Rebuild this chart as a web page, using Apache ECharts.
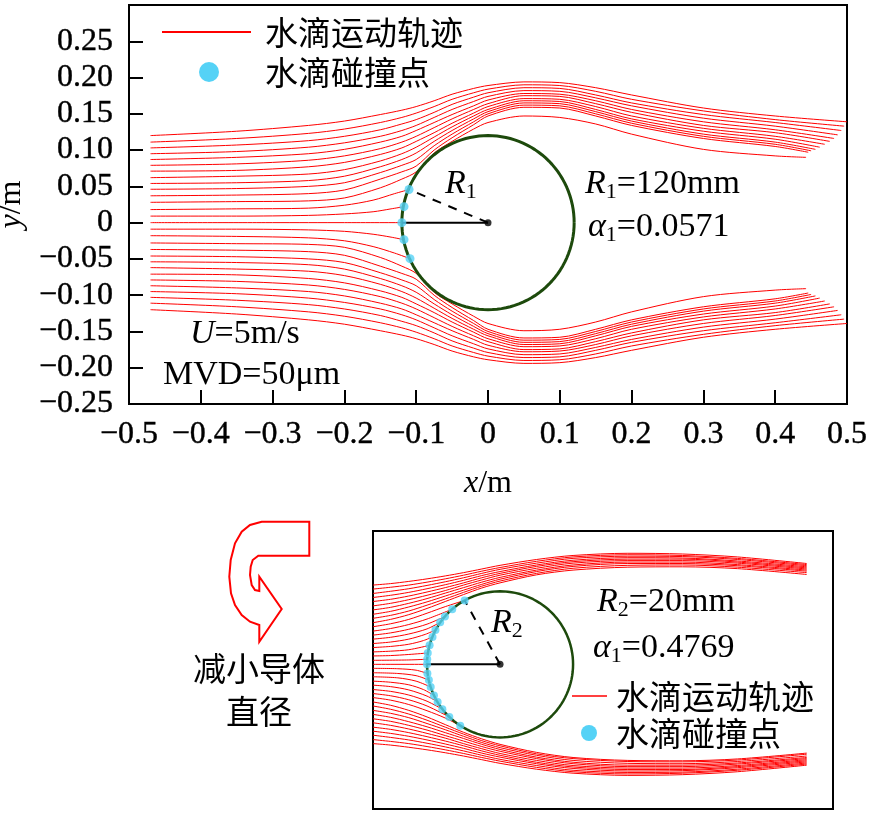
<!DOCTYPE html>
<html><head><meta charset="utf-8">
<script src="https://cdn.jsdelivr.net/npm/echarts@6/dist/echarts.min.js"></script>
<style>html,body{margin:0;padding:0;background:#fff}#c{width:870px;height:814px}</style>
</head><body><div id="c"></div>
<script>
// ---------------- DATA ----------------
const R1 = 0.12;          // m, large conductor
const R2 = 0.02;          // m, small conductor

// upper panel: shared x stations for droplet paths that pass the conductor
const topX = [-0.47,-0.35,-0.25,-0.2,-0.15,-0.12,-0.1,-0.075,-0.05,-0.02,0,0.05,0.1,0.15,0.2,0.3,0.4];
const topUpper = [
  [.120,.126,.134,.140,.149,.155,.160,.168,.177,.185,.189,.194,.193,.186,.176,.158,.147],
  [.111,.116,.123,.129,.138,.145,.151,.160,.170,.179,.184,.190,.189,.181,.170,.154,.142],
  [.103,.107,.113,.119,.128,.136,.142,.152,.163,.173,.179,.186,.185,.176,.165,.149,.138],
  [.095,.098,.104,.110,.119,.127,.134,.145,.156,.167,.174,.182,.181,.172,.161,.144,.133],
  [.087,.090,.095,.101,.111,.119,.127,.138,.149,.161,.169,.178,.177,.168,.156,.139,.128],
  [.079,.081,.086,.092,.102,.111,.119,.131,.143,.156,.164,.175,.174,.164,.152,.134,.124],
  [.071,.072,.077,.083,.094,.103,.112,.124,.137,.151,.160,.171,.170,.160,.147,.130,.119],
  [.062,.064,.067,.073,.085,.095,.104,.118,.132,.147,.156,.168,.167,.156,.143,.126,.115],
  [.054,.055,.058,.064,.077,.087,.096,.112,.127,.143,.153,.165,.164,.153,.140,.122,.111],
  [.046,.047,.050,.055,.069,.079,.087,.106,.122,.139,.150,.162,.161,.150,.137,.119,.108],
  [.037,.038,.040,.045,.060,.070,.078,.100,.117,.135,.147,.159,.158,.147,.134,.116,.105],
  [.028,.029,.030,.034,.048,.060,.070,.096,.112,.129,.138,.147,.145,.136,.122,.101,.092]
];
const topUpperEnd = [[.500,.139],[.496,.133],[.492,.127],[.487,.121],[.482,.116],[.476,.112],[.469,.108],[.462,.104],[.456,.101],[.450,.099],[.446,.097],[.443,.090]];
const topLower = [
  [-.120,-.126,-.134,-.140,-.149,-.155,-.160,-.168,-.177,-.185,-.189,-.194,-.193,-.186,-.176,-.158,-.147],
  [-.111,-.116,-.123,-.129,-.138,-.145,-.151,-.160,-.170,-.179,-.184,-.190,-.189,-.181,-.170,-.154,-.142],
  [-.103,-.107,-.113,-.119,-.128,-.136,-.142,-.152,-.163,-.173,-.179,-.186,-.185,-.176,-.165,-.149,-.138],
  [-.095,-.098,-.104,-.110,-.119,-.127,-.134,-.145,-.156,-.167,-.174,-.182,-.181,-.172,-.161,-.144,-.133],
  [-.087,-.090,-.095,-.101,-.111,-.119,-.127,-.138,-.149,-.161,-.169,-.178,-.177,-.168,-.156,-.139,-.128],
  [-.079,-.081,-.086,-.092,-.102,-.111,-.119,-.131,-.143,-.156,-.164,-.175,-.174,-.164,-.152,-.134,-.124],
  [-.071,-.072,-.077,-.083,-.094,-.103,-.112,-.124,-.137,-.151,-.160,-.171,-.170,-.160,-.147,-.130,-.119],
  [-.062,-.064,-.067,-.073,-.085,-.095,-.104,-.118,-.132,-.147,-.156,-.168,-.167,-.156,-.143,-.126,-.115],
  [-.054,-.055,-.058,-.064,-.077,-.087,-.096,-.112,-.127,-.143,-.153,-.165,-.164,-.153,-.140,-.122,-.111],
  [-.046,-.047,-.050,-.055,-.069,-.079,-.087,-.106,-.122,-.139,-.150,-.162,-.161,-.150,-.137,-.119,-.108],
  [-.037,-.038,-.040,-.045,-.060,-.070,-.078,-.100,-.117,-.135,-.147,-.159,-.158,-.147,-.134,-.116,-.105],
  [-.028,-.029,-.030,-.034,-.048,-.060,-.070,-.096,-.112,-.129,-.139,-.149,-.147,-.137,-.123,-.102,-.093]
];
const topLowerEnd = [[.500,-.139],[.496,-.133],[.492,-.127],[.487,-.121],[.482,-.116],[.476,-.112],[.469,-.108],[.462,-.104],[.456,-.101],[.450,-.099],[.446,-.097],[.443,-.091]];
// upper panel: droplet paths that end on the conductor
const topImpact = [
  [[-.47,.018],[-.35,.019],[-.25,.020],[-.2,.024],[-.16,.031],[-.13,.040],[-.110,.0456]],
  [[-.47,.009],[-.35,.009],[-.25,.010],[-.2,.012],[-.16,.015],[-.135,.019],[-.117,.022]],
  [[-.47,0],[-.3,0],[-.2,0],[-.12,0]],
  [[-.47,-.009],[-.35,-.009],[-.25,-.010],[-.2,-.012],[-.16,-.016],[-.135,-.020],[-.117,-.0235]],
  [[-.47,-.018],[-.35,-.019],[-.25,-.021],[-.2,-.025],[-.16,-.033],[-.13,-.042],[-.1086,-.0497]]
];
const topDots = [[-.110,.0456],[-.117,.022],[-.12,0],[-.117,-.0235],[-.1086,-.0497]];

// lower panel (R2 = 20 mm)
const botX = [-0.0348,-0.03,-0.025,-0.02,-0.015,-0.01,-0.005,0,0.01,0.02,0.035,0.05,0.065,0.084];
const botUpper = [
  [.0217,.0221,.0227,.0234,.0242,.0251,.0261,.0271,.0287,.0298,.0304,.0302,.0294,.0276],
  [.0206,.0211,.0217,.0225,.0234,.0244,.0255,.0265,.0282,.0294,.0300,.0298,.0290,.0273],
  [.0194,.0200,.0207,.0216,.0226,.0237,.0249,.0260,.0277,.0290,.0296,.0295,.0287,.0270],
  [.0183,.0189,.0197,.0207,.0218,.0230,.0243,.0254,.0272,.0285,.0292,.0291,.0283,.0267],
  [.0172,.0178,.0187,.0198,.0210,.0223,.0237,.0249,.0268,.0281,.0288,.0288,.0280,.0264],
  [.0160,.0167,.0177,.0189,.0202,.0217,.0231,.0244,.0263,.0277,.0284,.0284,.0277,.0261],
  [.0149,.0156,.0167,.0180,.0195,.0210,.0225,.0238,.0258,.0272,.0280,.0280,.0273,.0258],
  [.0137,.0145,.0157,.0171,.0187,.0203,.0219,.0233,.0254,.0268,.0276,.0276,.0270,.0255],
  [.0126,.0134,.0146,.0162,.0179,.0197,.0214,.0228,.0249,.0263,.0271,.0272,.0266,.0251],
  [.0114,.0123,.0136,.0153,.0172,.0191,.0209,.0223,.0245,.0258,.0266,.0267,.0262,.0246]
];
const botLower = [
  [-.0217,-.0221,-.0227,-.0234,-.0242,-.0251,-.0261,-.0271,-.0287,-.0298,-.0304,-.0302,-.0294,-.0276],
  [-.0206,-.0211,-.0217,-.0225,-.0234,-.0244,-.0255,-.0265,-.0282,-.0294,-.0300,-.0298,-.0290,-.0273],
  [-.0194,-.0200,-.0207,-.0216,-.0226,-.0237,-.0249,-.0260,-.0277,-.0290,-.0296,-.0295,-.0287,-.0270],
  [-.0183,-.0189,-.0197,-.0207,-.0218,-.0230,-.0243,-.0254,-.0272,-.0285,-.0292,-.0291,-.0283,-.0267],
  [-.0172,-.0178,-.0187,-.0198,-.0210,-.0223,-.0237,-.0249,-.0268,-.0281,-.0288,-.0288,-.0280,-.0264],
  [-.0160,-.0167,-.0177,-.0189,-.0202,-.0217,-.0231,-.0244,-.0263,-.0277,-.0284,-.0284,-.0277,-.0261],
  [-.0149,-.0156,-.0167,-.0180,-.0195,-.0210,-.0225,-.0238,-.0258,-.0272,-.0280,-.0280,-.0273,-.0258],
  [-.0137,-.0145,-.0157,-.0171,-.0187,-.0203,-.0219,-.0233,-.0254,-.0268,-.0276,-.0276,-.0270,-.0255],
  [-.0126,-.0134,-.0146,-.0162,-.0179,-.0197,-.0214,-.0228,-.0249,-.0263,-.0271,-.0272,-.0266,-.0251],
  [-.0114,-.0123,-.0136,-.0153,-.0172,-.0191,-.0209,-.0223,-.0245,-.0258,-.0266,-.0267,-.0262,-.0246],
  [-.0103,-.0112,-.0126,-.0144,-.0165,-.0186,-.0204,-.0219,-.0241,-.0255,-.0263,-.0264,-.0259,-.0243]
];
const botImpact = [
  [[-.0348,.0103],[-.03,.0111],[-.025,.0123],[-.02,.0140],[-.015,.0158],[-.0097,.0175]],
  [[-.0348,.0091],[-.03,.0098],[-.025,.0109],[-.02,.0124],[-.0131,.0151]],
  [[-.0348,.0080],[-.03,.0086],[-.025,.0096],[-.02,.0110],[-.0151,.0131]],
  [[-.0348,.0069],[-.03,.0074],[-.025,.0083],[-.02,.0097],[-.0164,.0115]],
  [[-.0348,.0057],[-.03,.0061],[-.025,.0069],[-.0205,.0082],[-.0177,.0094]],
  [[-.0348,.0046],[-.03,.0049],[-.025,.0055],[-.021,.0065],[-.0185,.0075]],
  [[-.0348,.0034],[-.03,.0036],[-.025,.0040],[-.0193,.0052]],
  [[-.0348,.0023],[-.03,.0024],[-.025,.0027],[-.0198,.0031]],
  [[-.0348,.0011],[-.025,.0012],[-.01995,.0014]],
  [[-.0348,0],[-.02,0]],
  [[-.0348,-.0011],[-.028,-.0012],[-.023,-.0016],[-.0199,-.0025]],
  [[-.0348,-.0023],[-.028,-.0025],[-.023,-.0031],[-.0195,-.0043]],
  [[-.0348,-.0034],[-.028,-.0037],[-.023,-.0046],[-.019,-.0062]],
  [[-.0348,-.0046],[-.03,-.0049],[-.025,-.0056],[-.021,-.0069],[-.0181,-.0085]],
  [[-.0348,-.0057],[-.03,-.0061],[-.025,-.0070],[-.02,-.0087],[-.0171,-.0103]],
  [[-.0348,-.0069],[-.03,-.0074],[-.025,-.0084],[-.02,-.0101],[-.0158,-.0123]],
  [[-.0348,-.0080],[-.03,-.0086],[-.025,-.0097],[-.02,-.0114],[-.0139,-.0144]],
  [[-.0348,-.0091],[-.03,-.0098],[-.025,-.0110],[-.02,-.0127],[-.015,-.0147],[-.0109,-.0168]]
];
const botDots = [[-.0097,.0175],[-.0131,.0151],[-.0151,.0131],[-.0164,.0115],[-.0177,.0094],[-.0185,.0075],[-.0193,.0052],[-.0198,.0031],[-.01995,.0014],[-.02,0],
  [-.0199,-.0025],[-.0195,-.0043],[-.019,-.0062],[-.0181,-.0085],[-.0171,-.0103],[-.0158,-.0123],[-.0139,-.0144],[-.0109,-.0168]];

// ---------------- CHART ----------------
const serif = "'Liberation Serif','Times New Roman',serif";
const cjk = "'Noto Sans CJK SC','Noto Sans CJK JP',sans-serif";
const RED = '#ff0000', BLUE = '#55d2f6', GREEN = '#1d4a0c';

function zip(xs, ys){ return xs.map((x,i)=>[x, ys[i]]); }
function circlePts(R){ const p=[]; for(let a=0;a<=360;a+=3){ const t=a*Math.PI/180; p.push([R*Math.cos(t), R*Math.sin(t)]); } return p; }

const series = [];
function addPath(gi, pts){
  series.push({type:'line', name:'水滴运动轨迹', xAxisIndex:gi, yAxisIndex:gi, data:pts,
    symbol:'none', showSymbol:false, smooth:0.3, silent:true, z:2,
    lineStyle:{color:RED, width:1}});
}
topUpper.forEach((ys,i)=>addPath(0, zip(topX, ys).concat([topUpperEnd[i]])));
topLower.forEach((ys,i)=>addPath(0, zip(topX, ys).concat([topLowerEnd[i]])));
topImpact.forEach(p=>addPath(0, p));
botUpper.forEach(ys=>addPath(1, zip(botX, ys)));
botLower.forEach(ys=>addPath(1, zip(botX, ys)));
botImpact.forEach(p=>addPath(1, p));

[[0,R1,topDots,3,9],[1,R2,botDots,2.5,8]].forEach(([gi,R,dots,cw,ds])=>{
  series.push({type:'line', name:'导体', xAxisIndex:gi, yAxisIndex:gi, data:circlePts(R), symbol:'none', silent:true, z:3,
    lineStyle:{color:GREEN, width:cw}});
  series.push({type:'line', xAxisIndex:gi, yAxisIndex:gi, data:[[0,0],[-R,0]], symbol:'none', silent:true, z:4,
    lineStyle:{color:'#000', width:2}});
  series.push({type:'line', xAxisIndex:gi, yAxisIndex:gi, data:[[0,0],dots[0]], symbol:'none', silent:true, z:4,
    lineStyle:{color:'#000', width:2, type:[9,8]}});
  series.push({type:'scatter', xAxisIndex:gi, yAxisIndex:gi, data:[[0,0]], symbolSize:7, silent:true, z:5,
    itemStyle:{color:'#000'}});
  series.push({type:'scatter', name:'水滴碰撞点', xAxisIndex:gi, yAxisIndex:gi, data:dots, symbolSize:ds, silent:true, z:6,
    itemStyle:{color:BLUE}});
});

function fmt(v, d){ if (Math.abs(v) < 1e-9) return '0'; return (v<0?'\u2212':'') + Math.abs(v).toFixed(d); }
const tickFont = {fontFamily:serif, fontSize:32, color:'#000', textBorderColor:'#000', textBorderWidth:0.4};
const nameRich = {it:{fontFamily:serif, fontStyle:'italic', fontSize:32, color:'#000'}, n:{fontFamily:serif, fontSize:32, color:'#000'}};

const rich = {
  it:{fontFamily:serif, fontStyle:'italic', fontSize:34, fill:'#000'},
  n:{fontFamily:serif, fontSize:34, fill:'#000'},
  sub:{fontFamily:serif, fontSize:22, fill:'#000', padding:[16,0,0,0]}
};
function rtext(x, y, text){ return {type:'text', x:x, y:y, z:50, style:{text:text, rich:rich, align:'left', verticalAlign:'middle', fill:'#000', font:'34px '+serif}}; }
function ctext(x, y, text, align){ return {type:'text', x:x, y:y, z:50, style:{text:text, fill:'#000', font:'33px '+cjk, align:align||'left', verticalAlign:'middle'}}; }

const arrowPts = [[309.3,521.7],[309.3,555.7],[258.3,555.7],[252.7,560],[250.7,566.7],[250,575],[251.7,585],[255,590],[259.3,591],
  [259.3,576.7],[281.7,609],[259.3,641.7],[259.3,625],[250,621.7],[241.7,615],[235,605],[231,593.3],[229.3,576.7],[230.7,560],
  [235,543.3],[241.7,531.7],[250,525],[261.7,521.7]];

const option = {
  animation:false,
  backgroundColor:'#fff',
  grid:[
    {left:129, top:5, width:718, height:399, show:true, borderColor:'#000', borderWidth:2, backgroundColor:'transparent', containLabel:false, outerBoundsMode:'none'},
    {left:373, top:531, width:460, height:278, show:true, borderColor:'#000', borderWidth:2, backgroundColor:'transparent', containLabel:false, outerBoundsMode:'none'}
  ],
  xAxis:[
    {type:'value', gridIndex:0, min:-0.5, max:0.5, interval:0.1,
     axisLine:{onZero:false, lineStyle:{color:'#000', width:2}},
     axisTick:{inside:true, length:14, lineStyle:{color:'#000', width:2}},
     splitLine:{show:false},
     axisLabel:Object.assign({margin:15, formatter:v=>fmt(v,1)}, tickFont),
     name:'{it|x}{n|/m}', nameLocation:'middle', nameGap:64, nameTextStyle:{rich:nameRich}},
    {type:'value', gridIndex:1, min:-0.0348, max:0.0912, show:false}
  ],
  yAxis:[
    {type:'value', gridIndex:0, min:-0.25, max:0.30, interval:0.05,
     axisLine:{onZero:false, lineStyle:{color:'#000', width:2}},
     axisTick:{inside:true, length:14, lineStyle:{color:'#000', width:2}},
     splitLine:{show:false},
     axisLabel:Object.assign({margin:16, formatter:v=>(v>0.26?'':fmt(v,2))}, tickFont),
     name:'{it|y}{n|/m}', nameLocation:'middle', nameRotate:90, nameGap:92, nameTextStyle:{rich:nameRich}},
    {type:'value', gridIndex:1, min:-0.0396, max:0.0365, show:false}
  ],
  series:series,
  graphic:[
    // top legend
    {type:'line', z:50, shape:{x1:162, y1:32, x2:251, y2:32}, style:{stroke:RED, lineWidth:2}},
    ctext(265, 32, '水滴运动轨迹'),
    {type:'circle', z:50, shape:{cx:209, cy:72, r:10}, style:{fill:BLUE}},
    ctext(265, 72, '水滴碰撞点'),
    // top annotations
    rtext(445, 184, '{it|R}{sub|1}'),
    rtext(585, 184, '{it|R}{sub|1}{n|=120mm}'),
    rtext(588, 227, '{it|α}{sub|1}{n|=0.0571}'),
    rtext(190, 334, '{it|U}{n|=5m/s}'),
    rtext(163, 375, '{n|MVD=50μm}'),
    // curved arrow + caption
    {type:'polygon', z:50, shape:{points:arrowPts}, style:{fill:'none', stroke:RED, lineWidth:2}},
    ctext(259, 668, '减小导体', 'center'),
    ctext(259, 711, '直径', 'center'),
    // bottom annotations
    rtext(491, 623, '{it|R}{sub|2}'),
    rtext(597, 602, '{it|R}{sub|2}{n|=20mm}'),
    rtext(593, 648, '{it|α}{sub|1}{n|=0.4769}'),
    // bottom legend
    {type:'line', z:50, shape:{x1:572, y1:696, x2:607, y2:696}, style:{stroke:RED, lineWidth:1.5}},
    ctext(616, 696, '水滴运动轨迹'),
    {type:'circle', z:50, shape:{cx:589, cy:733, r:8}, style:{fill:BLUE}},
    ctext(616, 733, '水滴碰撞点')
  ]
};
const chart = echarts.init(document.getElementById('c'), null, {renderer:'canvas'});
chart.setOption(option);
</script></body></html>
